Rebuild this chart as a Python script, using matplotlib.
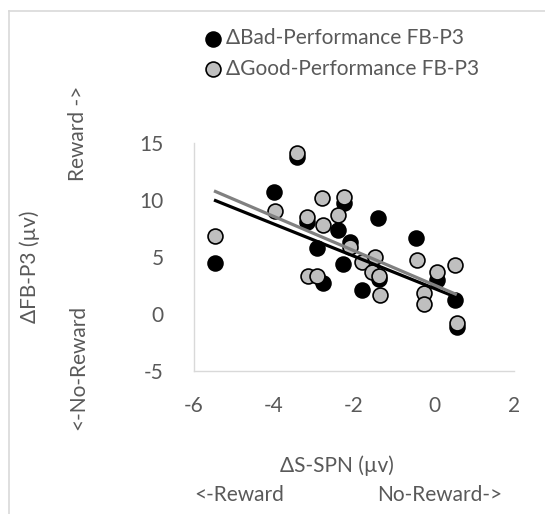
import numpy as np
import matplotlib
matplotlib.use("Agg")
import matplotlib.pyplot as plt
from matplotlib.lines import Line2D

plt.rcParams['font.family'] = ['Lato', 'DejaVu Sans']
plt.rcParams['axes.unicode_minus'] = False

# --- data ---
bad_x = [-5.47, -3.43, -3.99, -3.18, -2.25, -2.39, -2.92, -2.10, -2.27, -2.77,
         -1.41, -1.37, -1.81, -0.45, 0.07, 0.53, 0.57]
bad_y = [4.5, 13.8, 10.7, 8.1, 9.7, 7.4, 5.8, 6.3, 4.4, 2.7,
         8.4, 3.1, 2.1, 6.7, 3.0, 1.2, -1.1]

good_x = [-5.47, -3.43, -3.97, -3.18, -2.79, -2.25, -2.41, -2.77, -3.14, -2.93,
          -2.10, -1.81, -1.48, -1.56, -1.37, -1.35, -0.43, 0.07, 0.53, -0.24,
          -0.24, 0.57]
good_y = [6.8, 14.1, 9.0, 8.5, 10.15, 10.3, 8.7, 7.8, 3.3, 3.3,
          5.9, 4.6, 5.0, 3.7, 3.3, 1.7, 4.7, 3.7, 4.3, 1.8,
          0.9, -0.8]

# trendline end values as drawn in the reference (x from -5.5 to 0.57)
trend_x = [-5.5, 0.57]
bad_trend_y = [10.0, 1.45]
good_trend_y = [10.8, 1.7]

xticks = [-6, -4, -2, 0, 2]
yticks = [-5, 0, 5, 10, 15]

txt = '#595959'
axis_col = '#d9d9d9'
fs = 15

fig = plt.figure(figsize=(5.45, 5.14), dpi=100)
ax = fig.add_axes([194/545, 1 - 371/514, 320/545, 228/514])

ax.scatter(bad_x, bad_y, s=115, c='black', edgecolors='black', linewidths=1.2,
           zorder=3, label='ΔBad-Performance FB-P3')
ax.scatter(good_x, good_y, s=115, c='#bfbfbf', edgecolors='black', linewidths=1.2,
           zorder=4, label='ΔGood-Performance FB-P3')

ax.plot(trend_x, bad_trend_y, color='black', lw=2.3, zorder=5, solid_capstyle='butt')
ax.plot(trend_x, good_trend_y, color='#808080', lw=2.3, zorder=5, solid_capstyle='butt')

ax.set_xlim(-6, 2)
ax.set_ylim(-5, 15)
ax.set_xticks(xticks)
ax.set_yticks(yticks)
ax.tick_params(length=0, labelsize=fs, labelcolor=txt)
ax.tick_params(axis='y', pad=22)
ax.tick_params(axis='x', pad=18)
for s in ['top', 'right']:
    ax.spines[s].set_visible(False)
for s in ['left', 'bottom']:
    ax.spines[s].set_color(axis_col)
    ax.spines[s].set_linewidth(1)

fig.legend(loc='upper left', bbox_to_anchor=(192/545, 1 - 20/514), frameon=False,
           fontsize=fs, labelcolor=txt, handletextpad=0.05, labelspacing=0.5,
           borderaxespad=0, handlelength=1.2)

# axis titles
fig.text(30/545, 1 - 267/514, 'ΔFB-P3 (µv)', rotation=90, ha='center', va='center',
         fontsize=fs, color=txt)
fig.text(78/545, 1 - 133/514, 'Reward ->', rotation=90, ha='center', va='center',
         fontsize=fs, color=txt)
fig.text(78/545, 1 - 367/514, '<-No-Reward', rotation=90, ha='center', va='center',
         fontsize=fs, color=txt)
fig.text(337/545, 1 - 466/514, 'ΔS-SPN (µv)', ha='center', va='center',
         fontsize=fs, color=txt)
fig.text(239/545, 1 - 495/514, '<-Reward', ha='center', va='center',
         fontsize=fs, color=txt)
fig.text(440/545, 1 - 495/514, 'No-Reward->', ha='center', va='center',
         fontsize=fs, color=txt)

# chart-area border (cropped in the reference)
fig.add_artist(Line2D([9/545, 1], [1 - 11/514, 1 - 11/514], color=axis_col, lw=1.2))
fig.add_artist(Line2D([9/545, 9/545], [0, 1 - 11/514], color=axis_col, lw=1.2))

fig.savefig('out.png', dpi=100)
